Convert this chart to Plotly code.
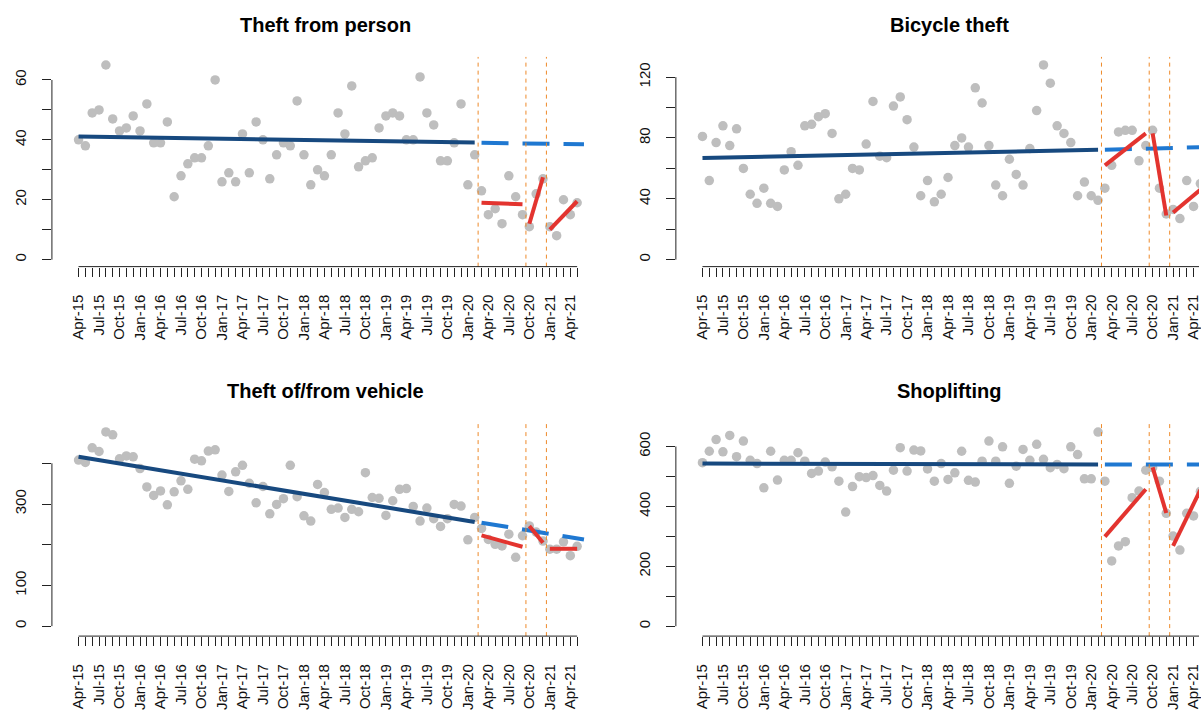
import plotly.graph_objects as go

# month index: 0 = Apr-15 ... 73 = May-21
months = list(range(74))
tick_labels = ["Apr-15", "Jul-15", "Oct-15", "Jan-16", "Apr-16", "Jul-16", "Oct-16",
               "Jan-17", "Apr-17", "Jul-17", "Oct-17", "Jan-18", "Apr-18", "Jul-18",
               "Oct-18", "Jan-19", "Apr-19", "Jul-19", "Oct-19", "Jan-20", "Apr-20",
               "Jul-20", "Oct-20", "Jan-21", "Apr-21"]

# observed monthly counts
theft_person = [40, 38, 49, 50, 65, 47, 43, 44, 48, 43,
                52, 39, 39, 46, 21, 28, 32, 34, 34, 38,
                60, 26, 29, 26, 42, 29, 46, 40, 27, 35,
                39, 38, 53, 35, 25, 30, 28, 35, 49, 42,
                58, 31, 33, 34, 44, 48, 49, 48, 40, 40,
                61, 49, 45, 33, 33, 39, 52, 25, 35, 23,
                15, 17, 12, 28, 21, 15, 11, 22, 27, 11,
                8, 20, 15, 19]
bicycle = [81, 52, 77, 88, 75, 86, 60, 43, 37, 47,
           37, 35, 59, 71, 62, 88, 89, 94, 96, 83,
           40, 43, 60, 59, 76, 104, 68, 67, 101, 107,
           92, 74, 42, 52, 38, 43, 54, 75, 80, 74,
           113, 103, 75, 49, 42, 66, 56, 49, 73, 98,
           128, 116, 88, 83, 77, 42, 51, 42, 39, 47,
           62, 84, 85, 85, 65, 75, 85, 47, 30, 33,
           27, 52, 35, 50]
vehicle = [408, 402, 438, 429, 477, 470, 411, 418, 416, 387,
           342, 321, 332, 298, 330, 357, 336, 410, 406, 430,
           433, 371, 331, 379, 395, 351, 303, 343, 276, 299,
           313, 395, 318, 271, 258, 348, 328, 287, 290, 267,
           287, 281, 377, 316, 314, 272, 308, 336, 338, 294,
           258, 290, 264, 245, 264, 299, 295, 212, 267, 240,
           213, 201, 197, 226, 169, 222, 246, 231, 209, 189,
           189, 207, 173, 196]
shoplifting = [546, 584, 623, 582, 637, 566, 618, 554, 543, 462,
               584, 488, 554, 554, 579, 551, 510, 518, 548, 532,
               484, 381, 466, 499, 496, 503, 470, 451, 521, 596,
               518, 588, 585, 525, 484, 543, 490, 512, 584, 487,
               481, 551, 618, 551, 599, 477, 534, 590, 554, 607,
               557, 529, 540, 526, 599, 573, 492, 492, 648, 484,
               218, 268, 282, 429, 451, 521, 529, 484, 377, 301,
               254, 377, 368, 450]

# pre-covid trend (Apr-15..Feb-20) and its projection (Mar-20..Jun-21)
pre_x = [0, 58]
cf_x = [59, 74]
theft_person_pre, theft_person_cf = [41.1, 39.1], [39.0, 38.5]
bicycle_pre, bicycle_cf = [66.8, 72.2], [72.3, 74.0]
vehicle_pre, vehicle_cf = [416, 256], [254, 213]
shoplifting_pre, shoplifting_cf = [543, 540], [540, 540]

# fitted lines for the three covid periods
period_x = [[59, 65], [66, 68], [69, 73]]
theft_person_seg = [[19, 18.5], [12, 27.5], [10, 19.5]]
bicycle_seg = [[62, 83], [83, 29], [31, 46]]
vehicle_seg = [[223, 195], [246, 205], [190, 190]]
shoplifting_seg = [[299, 457], [530, 378], [268, 455]]

breaks = [58.5, 65.5, 68.5]

W, H = 1201, 710
FONT = "Liberation Sans, Arial, Helvetica, sans-serif"

panels = [
    dict(title="Theft from person", y=theft_person, pre=theft_person_pre, cf=theft_person_cf,
         seg=theft_person_seg, yt=[0, 10, 20, 30, 40, 50, 60], yl=["0", "", "20", "", "40", "", "60"],
         yr=[-2.33, 67.7], px=(52, 600), py=(57, 267), trange=[-3.9, 76.2]),
    dict(title="Bicycle theft", y=bicycle, pre=bicycle_pre, cf=bicycle_cf,
         seg=bicycle_seg, yt=[0, 20, 40, 60, 80, 100, 120], yl=["0", "", "40", "", "80", "", "120"],
         yr=[-4.6, 133.3], px=(677, 1201), py=(57, 267), trange=[-3.9, 72.8]),
    dict(title="Theft of/from vehicle", y=vehicle, pre=vehicle_pre, cf=vehicle_cf,
         seg=vehicle_seg, yt=[0, 100, 200, 300, 400], yl=["0", "100", "", "300", ""],
         yr=[-24.5, 498], px=(52, 600), py=(424, 637), trange=[-3.9, 76.2]),
    dict(title="Shoplifting", y=shoplifting, pre=shoplifting_pre, cf=shoplifting_cf,
         seg=shoplifting_seg, yt=[0, 100, 200, 300, 400, 500, 600], yl=["0", "", "200", "", "400", "", "600"],
         yr=[-33, 677], px=(677, 1201), py=(424, 637), trange=[-3.9, 72.8]),
]

xticktext = []
for i in months:
    xticktext.append(tick_labels[i // 3] if i % 3 == 0 else "")

fig = go.Figure()
shapes = []
annotations = []
layout = {}

for k, p in enumerate(panels):
    sfx = "" if k == 0 else str(k + 1)
    xa, ya = "x" + sfx, "y" + sfx
    xdom = [p["px"][0] / W, p["px"][1] / W]
    ydom = [(H - p["py"][1]) / H, (H - p["py"][0]) / H]

    fig.add_trace(go.Scatter(x=months, y=p["y"], mode="markers",
                             marker=dict(color="#BEBEBE", size=9.5),
                             xaxis=xa, yaxis=ya, showlegend=False))
    fig.add_trace(go.Scatter(x=pre_x, y=p["pre"], mode="lines",
                             line=dict(color="#17497F", width=4),
                             xaxis=xa, yaxis=ya, showlegend=False))
    fig.add_trace(go.Scatter(x=cf_x, y=p["cf"], mode="lines",
                             line=dict(color="#1F78D1", width=4, dash="27px,14px"),
                             xaxis=xa, yaxis=ya, showlegend=False))
    for px_, py_ in zip(period_x, p["seg"]):
        fig.add_trace(go.Scatter(x=px_, y=py_, mode="lines",
                                 line=dict(color="#E3342F", width=4),
                                 xaxis=xa, yaxis=ya, showlegend=False))

    for b in breaks:
        shapes.append(dict(type="line", xref=xa, yref="paper", x0=b, x1=b,
                           y0=ydom[0], y1=ydom[1],
                           line=dict(color="#EE8A2A", width=1, dash="4px,4px")))
    # R style axis lines (only between first and last tick)
    shapes.append(dict(type="line", xref=xa, yref="paper", x0=months[0], x1=months[-1],
                       y0=ydom[0], y1=ydom[0], line=dict(color="#222", width=1)))
    shapes.append(dict(type="line", xref="paper", yref=ya, x0=xdom[0], x1=xdom[0],
                       y0=p["yt"][0], y1=p["yt"][-1], line=dict(color="#222", width=1)))

    layout["xaxis" + sfx] = dict(domain=xdom, range=p["trange"], anchor=ya,
                                 tickvals=months, ticktext=xticktext, tickangle=-90,
                                 ticks="outside", ticklen=9, tickcolor="#222",
                                 ticklabelstandoff=12, ticklabeloverflow="allow",
                                 showgrid=False, zeroline=False, showline=False,
                                 tickfont=dict(family=FONT, size=15, color="#111"))
    layout["yaxis" + sfx] = dict(domain=ydom, range=p["yr"], anchor=xa,
                                 tickvals=p["yt"], ticktext=p["yl"], tickangle=-90,
                                 ticks="outside", ticklen=9, tickcolor="#222",
                                 ticklabelstandoff=10,
                                 showgrid=False, zeroline=False, showline=False,
                                 tickfont=dict(family=FONT, size=15, color="#111"))

    cx = (p["px"][0] + p["px"][0] + 548) / 2 / W
    annotations.append(dict(text=p["title"], xref="paper", yref="paper",
                            x=cx, y=(H - (p["py"][0] - 32)) / H, xanchor="center", yanchor="middle",
                            showarrow=False,
                            font=dict(family=FONT, size=20, color="#000", weight="bold")))

fig.update_layout(width=W, height=H, margin=dict(l=0, r=0, t=0, b=0),
                  plot_bgcolor="white", paper_bgcolor="white",
                  shapes=shapes, annotations=annotations, **layout)

fig.write_html("out.html", config={"displayModeBar": False},
               post_script="document.body.style.margin='0';document.body.style.overflow='hidden';")
